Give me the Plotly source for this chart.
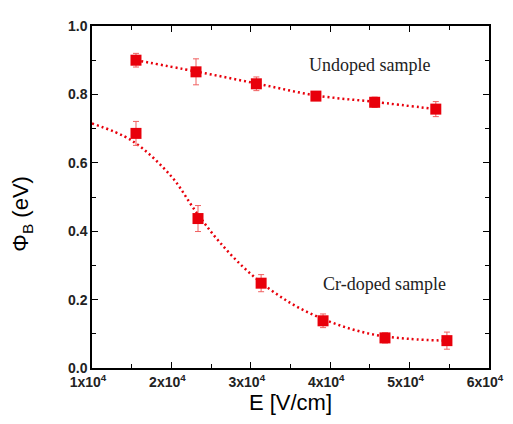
import plotly.graph_objects as go

# Undoped sample
undoped_E = [1.554e4, 2.31e4, 3.07e4, 3.82e4, 4.56e4, 5.33e4]
undoped_phi = [0.900, 0.866, 0.831, 0.795, 0.777, 0.757]
undoped_err = [0.020, 0.038, 0.020, 0.010, 0.015, 0.022]

# Cr-doped sample
cr_E = [1.554e4, 2.335e4, 3.13e4, 3.91e4, 4.69e4, 5.47e4]
cr_phi = [0.686, 0.437, 0.248, 0.138, 0.088, 0.080]
cr_err = [0.035, 0.038, 0.025, 0.020, 0.015, 0.025]

# Fit curves (dotted)
undoped_fit_E = [1.554e4, 2.31e4, 3.07e4, 3.82e4, 4.56e4, 5.33e4]
undoped_fit_phi = [0.900, 0.867, 0.832, 0.797, 0.778, 0.757]
cr_fit_E = [1.0e4, 1.5e4, 2.0e4, 2.3e4, 2.6e4, 3.0e4, 3.5e4, 4.0e4, 4.5e4, 5.0e4, 5.47e4]
cr_fit_phi = [0.715, 0.665, 0.560, 0.460, 0.370, 0.275, 0.190, 0.135, 0.100, 0.085, 0.080]

x_tickvals = [1e4, 2e4, 3e4, 4e4, 5e4, 6e4]
x_ticktext = ["1x10<sup>4</sup>", "2x10<sup>4</sup>", "3x10<sup>4</sup>",
              "4x10<sup>4</sup>", "5x10<sup>4</sup>", "6x10<sup>4</sup>"]
y_tickvals = [0.0, 0.2, 0.4, 0.6, 0.8, 1.0]
y_ticktext = ["0.0", "0.2", "0.4", "0.6", "0.8", "1.0"]

red = "#e8000b"
dotted = dict(color=red, dash="2px,3px", width=2.5, shape="spline")

fig = go.Figure()
fig.add_trace(go.Scatter(x=undoped_fit_E, y=undoped_fit_phi, mode="lines",
                         line=dotted, hoverinfo="skip"))
fig.add_trace(go.Scatter(x=cr_fit_E, y=cr_fit_phi, mode="lines",
                         line=dotted, hoverinfo="skip"))
fig.add_trace(go.Scatter(x=undoped_E, y=undoped_phi, mode="markers",
                         marker=dict(symbol="square", size=11, color=red),
                         error_y=dict(type="data", array=undoped_err, color="#f06060",
                                      thickness=1, width=3)))
fig.add_trace(go.Scatter(x=cr_E, y=cr_phi, mode="markers",
                         marker=dict(symbol="square", size=11, color=red),
                         error_y=dict(type="data", array=cr_err, color="#f06060",
                                      thickness=1, width=3)))

fig.add_annotation(x=4.5e4, y=0.885, text="Undoped sample", showarrow=False,
                   font=dict(family="Liberation Serif", size=18, color="#222"))
fig.add_annotation(x=4.68e4, y=0.245, text="Cr-doped sample", showarrow=False,
                   font=dict(family="Liberation Serif", size=18, color="#222"))
fig.add_annotation(xref="paper", yref="paper", x=-0.175, y=0.45, textangle=-90,
                   text="Φ<sub>B</sub> (eV)", showarrow=False, xanchor="center", yanchor="middle",
                   font=dict(family="Liberation Sans", size=22, color="black"))

tickfont = dict(family="Liberation Sans", size=14, color="#222", weight="bold")
axis_common = dict(showline=True, linecolor="black", linewidth=1.5, mirror="ticks",
                   ticks="inside", ticklen=6, tickwidth=1.3, tickcolor="black",
                   showgrid=False, zeroline=False, tickfont=tickfont)

fig.update_xaxes(range=[1e4, 6e4], tickvals=x_tickvals, ticktext=x_ticktext,
                 minor=dict(ticks="inside", ticklen=4, tickwidth=1.3, dtick=5000,
                            tick0=0, tickcolor="black"),
                 title=dict(text="E [V/cm]", font=dict(family="Liberation Sans", size=22, color="black"),
                            standoff=4),
                 ticklabeloverflow="allow", ticklabelshift=-4,
                 **axis_common)
fig.update_yaxes(range=[0, 1.0], tickvals=y_tickvals, ticktext=y_ticktext,
                 minor=dict(ticks="inside", ticklen=4, tickwidth=1.3, dtick=0.1,
                            tick0=0, tickcolor="black"),
                 **axis_common)

fig.update_layout(width=513, height=424, margin=dict(l=84, r=32, t=10, b=64),
                  plot_bgcolor="white", paper_bgcolor="white", showlegend=False)

fig.write_html("out.html")
